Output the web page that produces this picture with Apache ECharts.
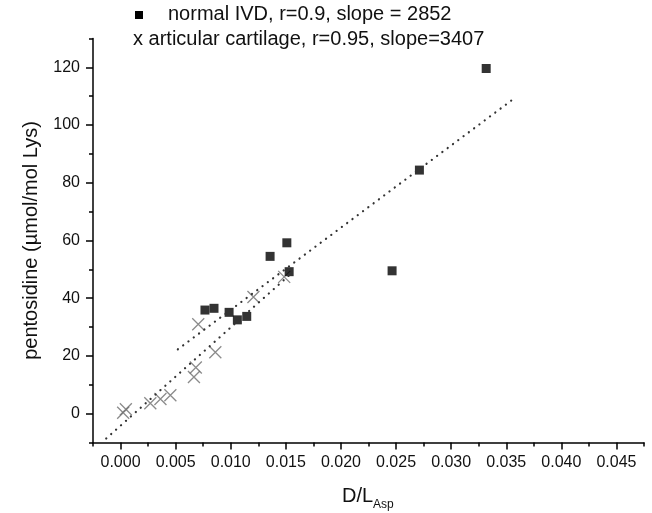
<!DOCTYPE html>
<html>
<head>
<meta charset="utf-8">
<script src="https://cdn.jsdelivr.net/npm/echarts@6/dist/echarts.min.js"></script>
<style>
html,body{margin:0;padding:0;background:#fff;}
#chart{width:652px;height:513px;}
</style>
</head>
<body>
<div id="chart"></div>
<script>
// ---- data ----
var ivdName = 'normal IVD, r=0.9, slope = 2852';
var cartName = 'x articular cartilage, r=0.95, slope=3407';

// normal IVD (filled squares): [D/L Asp, pentosidine]
var ivdX = [0.00766, 0.00848, 0.00985, 0.0106, 0.01145, 0.01357, 0.01509, 0.0153, 0.02464, 0.02712, 0.03318];
var ivdY = [35.9, 36.5, 35.1, 32.5, 33.7, 54.5, 59.2, 49.2, 49.5, 84.4, 119.6];

// articular cartilage (crosses)
var cartX = [0.00024, 0.00048, 0.00270, 0.00362, 0.00452, 0.00666, 0.00683, 0.00705, 0.00860, 0.01206, 0.01485];
var cartY = [0.3, 1.5, 3.6, 5.1, 6.4, 12.7, 16.0, 31.0, 21.3, 40.4, 47.4];

// regression lines (end points)
var ivdFitX = [0.0052, 0.0356];
var ivdFitY = [22.3, 108.9];
var cartFitX = [-0.0013, 0.0155];
var cartFitY = [-8.6, 48.6];

// axis ticks
var xMajor = [0, 0.005, 0.010, 0.015, 0.020, 0.025, 0.030, 0.035, 0.040, 0.045];
var xMinor = [-0.0025, 0.0025, 0.0075, 0.0125, 0.0175, 0.0225, 0.0275, 0.0325, 0.0375, 0.0425, 0.0475];
var yMajor = [0, 20, 40, 60, 80, 100, 120];
var yMinor = [-10, 10, 30, 50, 70, 90, 110, 130];

function pairs(xs, ys){ return xs.map(function(x,i){ return [x, ys[i]]; }); }

var FONT = '"Liberation Sans", Arial, sans-serif';
var chart = echarts.init(document.getElementById('chart'), null, {renderer:'canvas'});

var xMin = -0.0025, xMax = 0.0475, yMin = -10, yMax = 130;

var option = {
  animation: false,
  backgroundColor: '#fff',
  grid: {left: 93, right: 8, top: 38.5, bottom: 70.5, containLabel: false},
  xAxis: [{
    type: 'value', min: xMin, max: xMax, position: 'bottom',
    axisLine: {show: true, onZero: false, lineStyle: {color: '#000', width: 1.5}},
    axisTick: {show: true, inside: false, length: 7, customValues: xMajor, lineStyle: {color: '#000', width: 1.5}},
    axisLabel: {show: true, customValues: xMajor, margin: 12, fontSize: 16, color: '#111', fontFamily: FONT,
      formatter: function(v){ return v.toFixed(3); }},
    splitLine: {show: false}
  }, {
    type: 'value', min: xMin, max: xMax, position: 'bottom',
    axisLine: {show: false, onZero: false},
    axisTick: {show: true, inside: false, length: 4, customValues: xMinor, lineStyle: {color: '#000', width: 1.5}},
    axisLabel: {show: false},
    splitLine: {show: false}
  }],
  yAxis: [{
    type: 'value', min: yMin, max: yMax, position: 'left',
    name: 'pentosidine (\u00b5mol/mol Lys)', nameLocation: 'middle', nameGap: 52,
    nameTextStyle: {fontSize: 20, color: '#111', fontFamily: FONT},
    axisLine: {show: true, onZero: false, lineStyle: {color: '#000', width: 1.5}},
    axisTick: {show: true, inside: false, length: 7, customValues: yMajor, lineStyle: {color: '#000', width: 1.5}},
    axisLabel: {show: true, customValues: yMajor, margin: 13, fontSize: 16, color: '#111', fontFamily: FONT},
    splitLine: {show: false}
  }, {
    type: 'value', min: yMin, max: yMax, position: 'left',
    axisLine: {show: false, onZero: false},
    axisTick: {show: true, inside: false, length: 4, customValues: yMinor, lineStyle: {color: '#000', width: 1.5}},
    axisLabel: {show: false},
    splitLine: {show: false}
  }],
  graphic: [
    {type: 'rect', left: 135, top: 11, shape: {width: 8, height: 8}, style: {fill: '#000'}},
    {type: 'text', left: 168, top: 4, style: {text: ivdName, fontSize: 20, fontFamily: FONT, fill: '#111'}},
    {type: 'text', left: 133, top: 29, style: {text: cartName, fontSize: 20, fontFamily: FONT, fill: '#111'}},
    {type: 'text', left: 342, top: 486, style: {text: 'D/L', fontSize: 20, fontFamily: FONT, fill: '#111'}},
    {type: 'text', left: 373, top: 499, style: {text: 'Asp', fontSize: 12, fontFamily: FONT, fill: '#111'}}
  ],
  series: [{
    name: ivdName + ' fit', type: 'line', data: pairs(ivdFitX, ivdFitY), symbol: 'none', silent: true,
    lineStyle: {color: '#333', width: 2.2, type: [0.1, 6.5], cap: 'round'}
  }, {
    name: cartName + ' fit', type: 'line', data: pairs(cartFitX, cartFitY), symbol: 'none', silent: true,
    lineStyle: {color: '#333', width: 2.2, type: [0.1, 6.5], cap: 'round'}
  }, {
    name: cartName, type: 'scatter', data: pairs(cartX, cartY),
    symbol: 'path://M0,0L10,10M10,0L0,10', symbolSize: 12,
    itemStyle: {color: 'rgba(0,0,0,0)', borderColor: '#6e6e6e', borderWidth: 1.3}
  }, {
    name: ivdName, type: 'scatter', data: pairs(ivdX, ivdY),
    symbol: 'rect', symbolSize: 9,
    itemStyle: {color: '#000'}
  }]
};
chart.setOption(option);
</script>
</body>
</html>
